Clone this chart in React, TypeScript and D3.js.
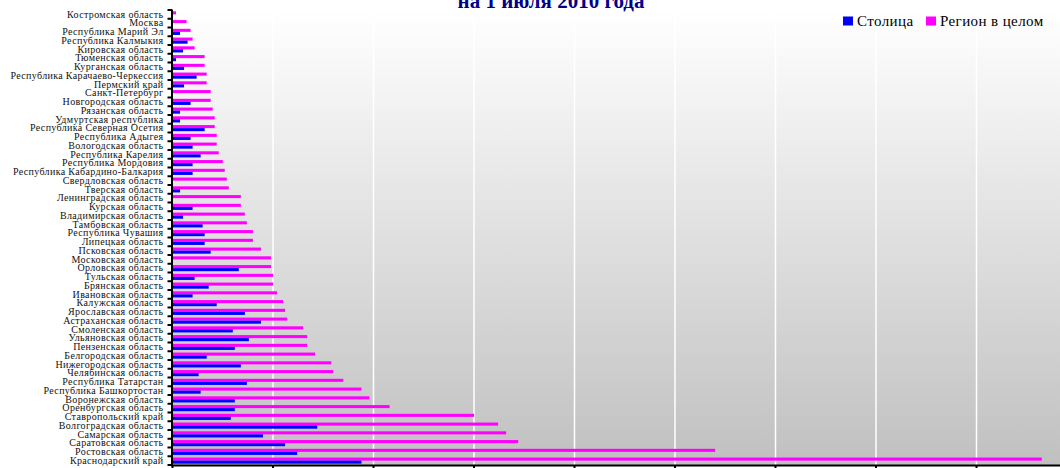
import { useRef, useEffect } from "react";
import * as d3 from "d3";

// categories, top to bottom
const categories = [
  "Костромская область",
  "Москва",
  "Республика Марий Эл",
  "Республика Калмыкия",
  "Кировская область",
  "Тюменская область",
  "Курганская область",
  "Республика Карачаево-Черкессия",
  "Пермский  край",
  "Санкт-Петербург",
  "Новгородская область",
  "Рязанская область",
  "Удмуртская республика",
  "Республика Северная Осетия",
  "Республика Адыгея",
  "Вологодская область",
  "Республика Карелия",
  "Республика Мордовия",
  "Республика Кабардино-Балкария",
  "Свердловская область",
  "Тверская область",
  "Ленинградская область",
  "Курская область",
  "Владимирская область",
  "Тамбовская область",
  "Республика Чувашия",
  "Липецкая область",
  "Псковская область",
  "Московская область",
  "Орловская область",
  "Тульская область",
  "Брянская область",
  "Ивановская область",
  "Калужская область",
  "Ярославская область",
  "Астраханская область",
  "Смоленская область",
  "Ульяновская область",
  "Пензенская область",
  "Белгородская область",
  "Нижегородская область",
  "Челябинская область",
  "Республика Татарстан",
  "Республика Башкортостан",
  "Воронежская область",
  "Оренбургская область",
  "Ставропольский край",
  "Волгоградская область",
  "Самарская область",
  "Саратовская область",
  "Ростовская область",
  "Краснодарский край",
];

// "Столица"
const capitalValues = [
  0, 0, 7.5, 15, 10.5, 3.5, 11.5, 24, 11.5, 0, 18, 7.5, 7.5, 32, 18, 20, 28,
  20, 20, 0, 7.5, 0, 20, 10.5, 30, 32, 32, 38, 0, 66, 22, 36, 20, 44, 72, 88,
  60, 76, 62, 34, 68, 26, 74, 28, 62, 62, 58, 144, 90, 112, 124, 188,
];

// "Регион в целом"
const regionValues = [
  3.5, 14, 18, 20, 22, 32, 32, 34, 34, 38, 38, 40, 42, 42, 44, 44, 46, 50, 52,
  54, 56, 68, 68, 72, 74, 80, 80, 88, 98, 98, 100, 100, 104, 110, 112, 114,
  130, 134, 134, 142, 158, 160, 170, 188, 196, 216, 300, 324, 332, 344, 540,
  865,
];

const xTicks = [0, 100, 200, 300, 400, 500, 600, 700, 800, 900, 1000];

const seriesNames = ["Столица", "Регион в целом"];
const seriesColors = ["#0000ff", "#ff00ff"];

const FONT = "'Liberation Serif', 'Times New Roman', serif";

export default function App() {
  const svgRef = useRef<SVGSVGElement>(null);

  useEffect(() => {
    if (!svgRef.current) return;
    const svg = d3.select(svgRef.current);
    svg.selectAll("*").remove();

    const width = 1060;
    const height = 468;
    const plot = { left: 172.5, top: 10, bottom: 465 };

    svg.attr("width", width).attr("height", height);

    const x = d3.scaleLinear().domain([0, 1000]).range([plot.left, plot.left + 1005]);
    const y = d3
      .scaleBand<string>()
      .domain(categories)
      .range([plot.top, plot.bottom])
      .paddingInner(0.3)
      .paddingOuter(0.15);
    const sub = d3.scaleBand<string>().domain(["region", "capital"]).range([0, y.bandwidth()]);

    // background gradient
    const grad = svg
      .append("defs")
      .append("linearGradient")
      .attr("id", "bg")
      .attr("x1", 0)
      .attr("y1", 0)
      .attr("x2", 0)
      .attr("y2", 1);
    grad.append("stop").attr("offset", "0%").attr("stop-color", "#ffffff");
    grad.append("stop").attr("offset", "100%").attr("stop-color", "#c0c0c0");

    svg.append("rect").attr("width", width).attr("height", height).attr("fill", "#fff");
    svg
      .append("rect")
      .attr("x", plot.left)
      .attr("y", plot.top)
      .attr("width", width - plot.left)
      .attr("height", plot.bottom - plot.top)
      .attr("fill", "url(#bg)");

    // grid
    svg
      .append("g")
      .selectAll("line")
      .data(xTicks.slice(1))
      .join("line")
      .attr("x1", (d) => x(d))
      .attr("x2", (d) => x(d))
      .attr("y1", plot.top)
      .attr("y2", plot.bottom)
      .attr("stroke", "#ffffff")
      .attr("stroke-width", 1.5);

    // bars
    const rows = categories.map((c, i) => ({ c, cap: capitalValues[i], reg: regionValues[i] }));
    const bars = svg.append("g");
    bars
      .selectAll(".reg")
      .data(rows)
      .join("rect")
      .attr("class", "reg")
      .attr("x", x(0))
      .attr("y", (d) => (y(d.c) ?? 0) + (sub("region") ?? 0))
      .attr("width", (d) => x(d.reg) - x(0))
      .attr("height", sub.bandwidth())
      .attr("fill", seriesColors[1]);
    bars
      .selectAll(".cap")
      .data(rows)
      .join("rect")
      .attr("class", "cap")
      .attr("x", x(0))
      .attr("y", (d) => (y(d.c) ?? 0) + (sub("capital") ?? 0))
      .attr("width", (d) => x(d.cap) - x(0))
      .attr("height", sub.bandwidth())
      .attr("fill", seriesColors[0]);

    // y axis labels
    const gy = svg
      .append("g")
      .attr("transform", `translate(${plot.left - 1},0)`)
      .call(d3.axisLeft(y).tickSize(0).tickPadding(8));
    gy.select(".domain").remove();
    gy.selectAll(".tick text")
      .attr("fill", "#111")
      .attr("font-size", "10px")
      .attr("letter-spacing", "0.35px")
      .attr("font-family", FONT);

    // y axis line + boundary ticks
    const gap = (y.step() - y.bandwidth()) / 2;
    const bounds = categories.map((c) => (y(c) ?? 0) - gap).concat([plot.bottom]);
    svg
      .append("line")
      .attr("x1", plot.left - 0.5)
      .attr("x2", plot.left - 0.5)
      .attr("y1", plot.top)
      .attr("y2", plot.bottom + 1)
      .attr("stroke", "#000")
      .attr("stroke-width", 2);
    svg
      .append("g")
      .selectAll("line")
      .data(bounds)
      .join("line")
      .attr("x1", plot.left - 5)
      .attr("x2", plot.left)
      .attr("y1", (d) => d)
      .attr("y2", (d) => d)
      .attr("stroke", "#000")
      .attr("stroke-width", 2);

    // x axis
    svg
      .append("line")
      .attr("x1", plot.left - 1.5)
      .attr("x2", width)
      .attr("y1", plot.bottom + 0.5)
      .attr("y2", plot.bottom + 0.5)
      .attr("stroke", "#000")
      .attr("stroke-width", 2);
    svg
      .append("g")
      .selectAll("line")
      .data(xTicks)
      .join("line")
      .attr("x1", (d) => x(d))
      .attr("x2", (d) => x(d))
      .attr("y1", plot.bottom)
      .attr("y2", plot.bottom + 6)
      .attr("stroke", "#000")
      .attr("stroke-width", 2);

    // title (upper part is cut off, as in the source)
    svg
      .append("text")
      .attr("x", 551)
      .attr("y", 7.5)
      .attr("text-anchor", "middle")
      .attr("fill", "#00008b")
      .attr("font-family", FONT)
      .attr("font-weight", "bold")
      .attr("font-size", "21px")
      .text("на 1 июля 2010 года");

    // legend
    const legend = svg.append("g").attr("transform", "translate(843,16.5)");
    const offsets = [0, 83];
    seriesNames.forEach((name, i) => {
      const g = legend.append("g").attr("transform", `translate(${offsets[i]},0)`);
      g.append("rect").attr("width", 10).attr("height", 9).attr("fill", seriesColors[i]);
      g.append("text")
        .attr("x", 14)
        .attr("y", 9)
        .attr("fill", "#000")
        .attr("font-family", FONT)
        .attr("font-size", "15px")
        .attr("letter-spacing", "0.4px")
        .text(name);
    });
  }, []);

  return (
    <svg
      ref={svgRef}
      style={{ position: "absolute", left: 0, top: 0, display: "block" }}
    />
  );
}
